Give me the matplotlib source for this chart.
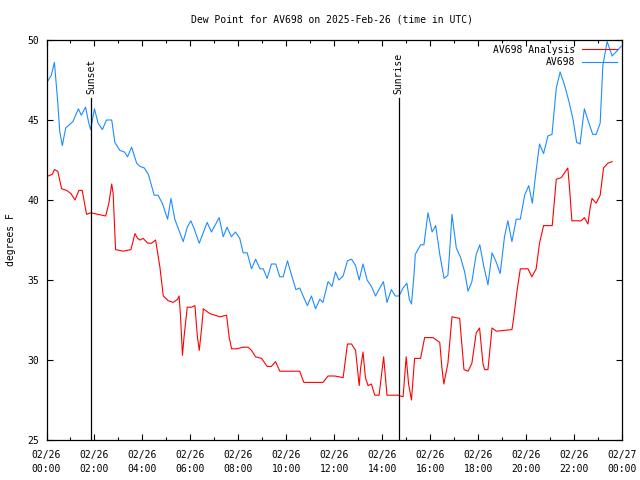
import matplotlib
matplotlib.use('Agg')
import matplotlib.pyplot as plt

plt.rcParams['font.family'] = ['DejaVu Sans Mono']
plt.rcParams['font.size'] = 7

# hours after 2025-02-26 00:00 UTC, dew point in degrees F
obs_hours = [0.0, 0.2, 0.33, 0.47, 0.55, 0.66, 0.8, 0.95, 1.1, 1.33, 1.45, 1.63, 1.75, 1.84,
             2.0, 2.15, 2.33, 2.5, 2.72, 2.85, 3.06, 3.25, 3.38, 3.55, 3.76, 3.9, 4.08, 4.25,
             4.49, 4.65, 4.83, 5.05, 5.19, 5.35, 5.55, 5.7, 5.87, 6.02, 6.16, 6.37, 6.7, 6.88,
             7.2, 7.37, 7.53, 7.71, 7.88, 8.06, 8.2, 8.37, 8.55, 8.72, 8.9, 9.04, 9.2, 9.38,
             9.56, 9.73, 9.87, 10.05, 10.22, 10.4, 10.56, 10.73, 10.88, 11.05, 11.22, 11.4,
             11.53, 11.74, 11.91, 12.05, 12.19, 12.37, 12.55, 12.72, 12.89, 13.04, 13.2, 13.37,
             13.55, 13.72, 13.9, 14.05, 14.2, 14.38, 14.55, 14.7, 14.87, 15.03, 15.13, 15.22,
             15.33, 15.38, 15.6, 15.74, 15.91, 16.08, 16.23, 16.4, 16.58, 16.74, 16.81, 16.91,
             17.09, 17.27, 17.44, 17.58, 17.74, 17.92, 18.07, 18.23, 18.41, 18.58, 18.76, 18.92,
             19.1, 19.24, 19.41, 19.59, 19.76, 19.94, 20.11, 20.26, 20.4, 20.56, 20.73, 20.91,
             21.08, 21.26, 21.42, 21.6, 21.78, 21.95, 22.11, 22.25, 22.43, 22.6, 22.78, 22.92,
             23.09, 23.2, 23.38, 23.59, 23.78, 23.96]
obs_dewpt = [47.3, 47.8, 48.6, 46.1, 44.3, 43.4, 44.5, 44.7, 44.9, 45.7, 45.3, 45.8, 44.9, 44.4,
             45.7, 44.8, 44.4, 45.0, 45.0, 43.6, 43.1, 43.0, 42.7, 43.3, 42.3, 42.1, 42.0, 41.6,
             40.3, 40.3, 39.8, 38.8, 40.1, 38.8, 38.0, 37.4, 38.3, 38.7, 38.2, 37.3, 38.6, 38.0,
             38.9, 37.7, 38.3, 37.7, 38.0, 37.6, 36.7, 36.7, 35.7, 36.3, 35.7, 35.7, 35.1, 36.0,
             36.0, 35.2, 35.2, 36.2, 35.3, 34.4, 34.5, 33.9, 33.4, 34.0, 33.2, 33.8,
             33.6, 34.9, 34.6, 35.5, 35.0, 35.25, 36.2, 36.3, 35.9, 35.0, 36.0, 35.0,
             34.6, 34.0, 34.5, 34.9, 33.6, 34.4, 34.0, 34.0, 34.5, 34.8, 33.8, 33.5,
             35.4, 36.6, 37.2, 37.2, 39.2, 38.0, 38.4, 36.6, 35.1, 35.3, 36.7, 39.1,
             37.0, 36.4, 35.5, 34.3, 34.9, 36.6, 37.2, 35.9, 34.7, 36.7, 36.1, 35.4,
             37.7, 38.7, 37.4, 38.8, 38.8, 40.3, 40.9, 39.8, 41.6, 43.5, 42.9, 44.0,
             44.1, 47.0, 48.0, 47.2, 46.2, 45.1, 43.6, 43.5, 45.7, 44.9, 44.1, 44.1,
             44.8, 48.4, 49.9, 49.0, 49.3, 49.6]

ana_hours = [0.0, 0.24, 0.33, 0.47, 0.63, 0.84, 1.02, 1.19, 1.35, 1.49, 1.67, 1.84, 2.16, 2.47,
             2.6, 2.72, 2.78, 2.88, 3.2, 3.52, 3.69, 3.8, 3.9, 4.03, 4.22, 4.38, 4.55, 4.73,
             4.87, 5.08, 5.29, 5.47, 5.53, 5.59, 5.67, 5.74, 5.87, 6.05, 6.19, 6.29, 6.37, 6.47,
             6.54, 6.81, 7.02, 7.23, 7.51, 7.62, 7.72, 7.93, 8.2, 8.41, 8.55, 8.72, 8.97, 9.2,
             9.38, 9.55, 9.73, 10.01, 10.56, 10.73, 11.53, 11.74, 12.02, 12.37, 12.55, 12.72,
             12.89, 13.04, 13.1, 13.2, 13.3, 13.41, 13.55, 13.69, 13.87, 14.06, 14.2, 14.45,
             14.66, 14.87, 15.0, 15.1, 15.22, 15.35, 15.6, 15.77, 16.12, 16.4, 16.49, 16.57,
             16.74, 16.91, 17.23, 17.41, 17.58, 17.74, 17.92, 18.06, 18.2, 18.27, 18.41, 18.58,
             18.76, 19.41, 19.48, 19.62, 19.76, 20.08, 20.24, 20.42, 20.56, 20.73, 21.09, 21.26,
             21.47, 21.74, 21.81, 21.91, 22.3, 22.43, 22.58, 22.67, 22.75, 22.92, 23.09, 23.23,
             23.41, 23.59]
ana_dewpt = [41.46, 41.6, 41.9, 41.8, 40.7, 40.6, 40.4, 40.0, 40.6, 40.6, 39.1, 39.2, 39.1, 39.0,
             39.8, 41.0, 40.4, 36.9, 36.8, 36.9, 37.9, 37.6, 37.5, 37.6, 37.3, 37.3, 37.5, 35.8,
             34.0, 33.7, 33.6, 33.8, 34.0, 32.7, 30.3, 31.5, 33.3, 33.3, 33.4, 31.5, 30.6, 32.0,
             33.2, 32.9, 32.8, 32.7, 32.8, 31.4, 30.7, 30.7, 30.8, 30.8, 30.6, 30.2, 30.1, 29.6,
             29.6, 29.9, 29.3, 29.3, 29.3, 28.6, 28.6, 29.0, 29.0, 28.9, 31.0, 31.0,
             30.6, 28.4, 29.5, 30.5, 28.9, 28.4, 28.5, 27.8, 27.8, 30.2, 27.8, 27.8,
             27.8, 27.7, 30.2, 28.5, 27.5, 30.1, 30.1, 31.4, 31.4, 31.1, 29.5, 28.5,
             29.8, 32.7, 32.6, 29.4, 29.3, 29.8, 31.7, 32.0, 29.8, 29.4, 29.4, 32.0,
             31.8, 31.9, 32.6, 34.3, 35.7, 35.7, 35.2, 35.7, 37.3, 38.4, 38.4, 41.3,
             41.4, 42.0, 40.8, 38.7, 38.7, 38.9, 38.5, 39.5, 40.1, 39.8, 40.3, 42.0,
             42.3, 42.4]

sunset_hour = 1.86
sunrise_hour = 14.69

tick_hours = [0, 2, 4, 6, 8, 10, 12, 14, 16, 18, 20, 22, 24]
tick_labels = ['02/26\n00:00', '02/26\n02:00', '02/26\n04:00', '02/26\n06:00', '02/26\n08:00',
               '02/26\n10:00', '02/26\n12:00', '02/26\n14:00', '02/26\n16:00', '02/26\n18:00',
               '02/26\n20:00', '02/26\n22:00', '02/27\n00:00']

fig = plt.figure(figsize=(6.4, 4.8), dpi=100)
ax = fig.add_axes([46.5 / 640, 40 / 480, 575.5 / 640, 400 / 480])

ax.plot(ana_hours, ana_dewpt, color='#ff0000', lw=0.8, label='AV698 Analysis')
ax.plot(obs_hours, obs_dewpt, color='#1e8cff', lw=0.8, label='AV698')

# sunset / sunrise markers
for h, name in [(sunset_hour, 'Sunset'), (sunrise_hour, 'Sunrise')]:
    ax.plot([h, h], [25, 46.35], color='black', lw=0.9)
    ax.text(h, 46.6, name, rotation=90, ha='center', va='bottom', fontsize=7)

ax.set_xlim(0, 24)
ax.set_ylim(25, 50)
ax.set_xticks(tick_hours)
ax.set_xticklabels(tick_labels, linespacing=1.45)
ax.set_xticks(range(1, 24, 2), minor=True)
ax.set_yticks([25, 30, 35, 40, 45, 50])

ax.tick_params(which='both', direction='in', top=True, right=True, width=0.8)
ax.tick_params(which='major', length=4)
ax.tick_params(which='minor', length=2.2)
ax.tick_params(axis='x', pad=7.5)
ax.tick_params(axis='y', pad=5)
for s in ax.spines.values():
    s.set_linewidth(0.9)

ax.set_ylabel('degrees F')
ax.yaxis.set_label_coords(-0.053, 0.5)

fig.text(0.518, 1 - 19 / 480, 'Dew Point for AV698 on 2025-Feb-26 (time in UTC)',
         ha='center', va='center', fontsize=7)

ax.legend(loc='upper right', frameon=False, markerfirst=False, handlelength=3.6,
          handletextpad=0.7, borderaxespad=0.2, borderpad=0.3, labelspacing=0.25)

fig.savefig('out.png', dpi=100)
